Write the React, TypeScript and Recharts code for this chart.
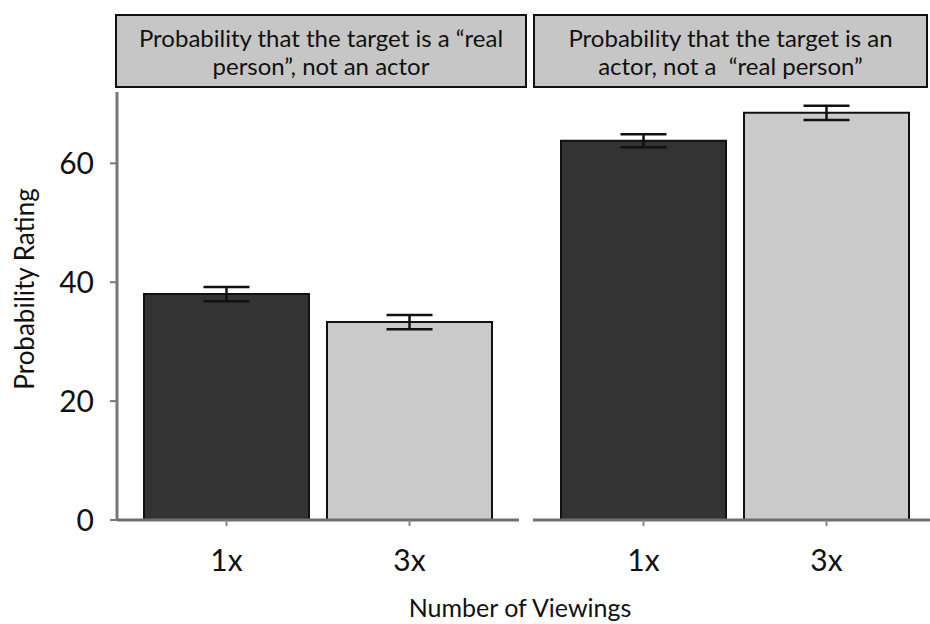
import React from 'react';
import { BarChart, Bar, Cell, XAxis, YAxis, ErrorBar } from 'recharts';

// Group means and standard errors per number of viewings
const viewings = ['1x', '3x'];
const realPersonMeans = [38.0, 33.3];
const realPersonErrors = [1.2, 1.2];
const actorMeans = [63.8, 68.5];
const actorErrors = [1.1, 1.2];
const yTicks = [0, 20, 40, 60];

const barColors = ['#333333', '#cacaca'];
const FONT = 'Lato, "Open Sans", sans-serif';

const toRows = (means: number[], errors: number[]) =>
  viewings.map((v, i) => ({ viewing: v, mean: means[i], err: errors[i] }));

const realPersonData = toRows(realPersonMeans, realPersonErrors);
const actorData = toRows(actorMeans, actorErrors);

const CHART_H = 624;
const margin = { top: 92, right: 0, bottom: 0, left: 0 };

const xTick = { fontSize: 30, fill: '#111', fontFamily: FONT, dy: 22 };

const Header = ({ left, width, lines }: { left: number; width: number; lines: string[] }) => (
  <div
    style={{
      position: 'absolute',
      left,
      top: 14,
      width,
      height: 74,
      boxSizing: 'border-box',
      border: '2.5px solid #111',
      background: '#c6c6c6',
      fontFamily: FONT,
      fontSize: 24,
      lineHeight: '28px',
      color: '#111',
      textAlign: 'center',
      paddingTop: 8,
      whiteSpace: 'pre',
    }}
  >
    {lines.map((l, i) => (
      <div key={i}>{l}</div>
    ))}
  </div>
);

const Panel = ({ data, showY, width, padding }: any) => (
  <BarChart width={width} height={CHART_H} data={data} margin={margin} barSize={165}>
    <XAxis
      dataKey="viewing"
      height={104}
      padding={padding}
      axisLine={{ stroke: '#6f6f6f', strokeWidth: 3 }}
      tickLine={{ stroke: '#888', strokeWidth: 2 }}
      tickSize={6}
      tick={xTick}
    />
    <YAxis
      hide={!showY}
      width={117}
      domain={[0, 72]}
      ticks={yTicks}
      axisLine={{ stroke: '#777', strokeWidth: 3 }}
      tickLine={{ stroke: '#777', strokeWidth: 2 }}
      tickSize={7}
      tick={{ fontSize: 30, fill: '#111', fontFamily: FONT, dx: -14 }}
      label={{
        value: 'Probability Rating',
        angle: -90,
        position: 'insideLeft',
        offset: 25,
        dy: -17,
        style: { fontSize: 26, fill: '#111', fontFamily: FONT, textAnchor: 'middle' },
      }}
    />
    <Bar dataKey="mean" stroke="#111" strokeWidth={2} isAnimationActive={false}>
      {data.map((_: any, i: number) => (
        <Cell key={i} fill={barColors[i % barColors.length]} />
      ))}
      <ErrorBar dataKey="err" width={23} stroke="#111" strokeWidth={2.5} isAnimationActive={false} />
    </Bar>
  </BarChart>
);

export default function App() {
  return (
    <div style={{ position: 'absolute', left: 0, top: 0, width: 930, height: 624, background: '#fff', overflow: 'hidden' }}>
      <div style={{ position: 'absolute', left: 0, top: 0 }}>
        <Panel data={realPersonData} showY width={519} padding={{ left: 18, right: 18 }} />
      </div>
      <div style={{ position: 'absolute', left: 533, top: 0 }}>
        <Panel data={actorData} showY={false} width={397} padding={{ left: 19, right: 12 }} />
      </div>
      <Header left={115} width={412} lines={['Probability that the target is a \u201creal', 'person\u201d, not an actor']} />
      <Header left={533} width={395} lines={['Probability that the target is an', 'actor, not a \u00a0\u201creal person\u201d']} />
      <div
        style={{
          position: 'absolute',
          left: 310,
          width: 420,
          top: 592,
          textAlign: 'center',
          fontFamily: FONT,
          fontSize: 25,
          color: '#111',
        }}
      >
        Number of Viewings
      </div>
    </div>
  );
}
